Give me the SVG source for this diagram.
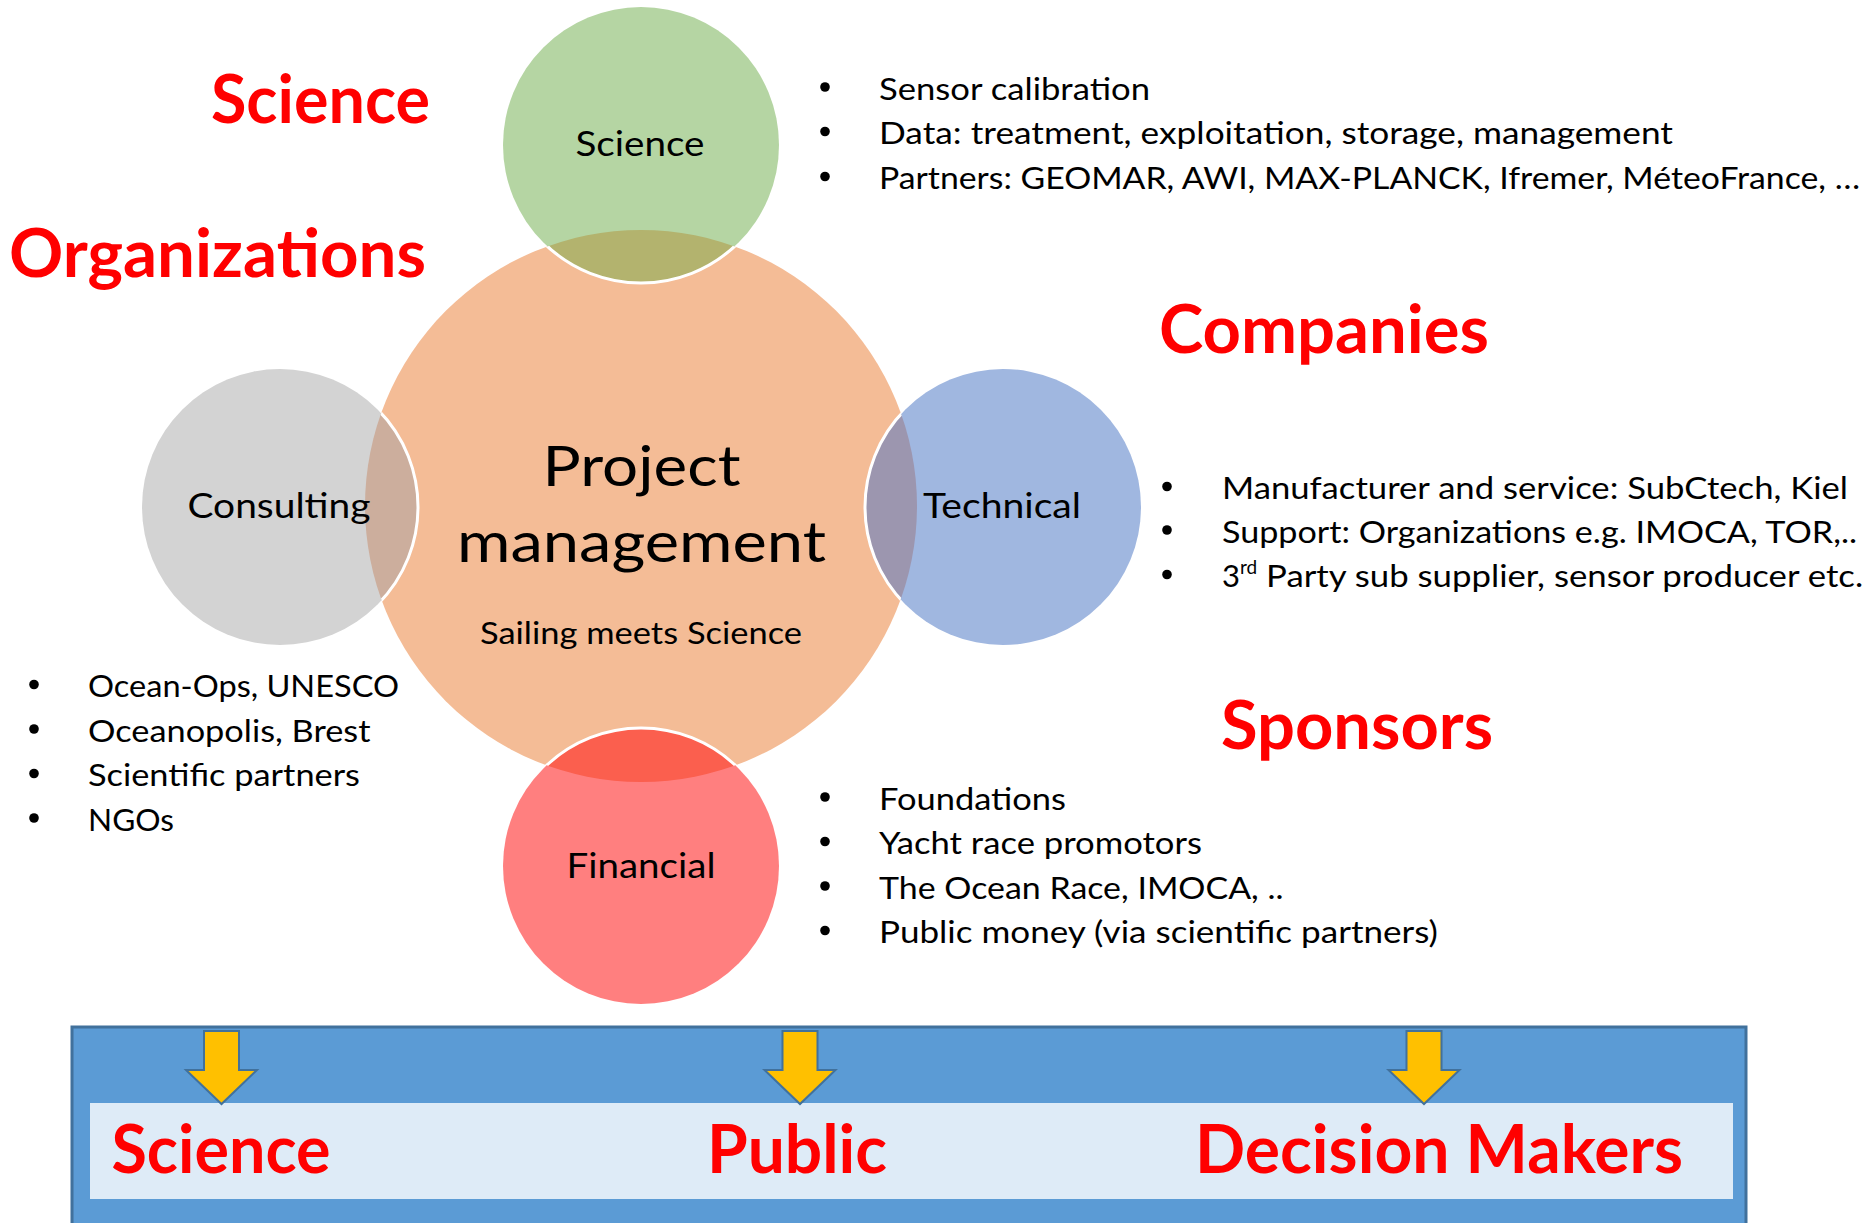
<svg xmlns="http://www.w3.org/2000/svg" xmlns:xlink="http://www.w3.org/1999/xlink" width="1875" height="1223" viewBox="0 0 1875 1223">
<style>
.t{font-family:Lato,"Liberation Sans",sans-serif;fill:#000}
.b{font-size:31px}
.lbl{font-size:35px;text-anchor:middle}
.red{font-family:Lato,"Liberation Sans",sans-serif;font-weight:bold;font-size:66px;fill:#FF0000}
.dot{fill:#000}
.ring{fill:none;stroke:#FFFFFF;stroke-width:3}
</style>
<defs>
<clipPath id="mainClip"><circle cx="641" cy="506" r="276"/></clipPath>
<path id="arrow" d="M-17.5,0 H17.5 V39 H35.5 L0,73 L-35.5,39 H-17.5 Z" fill="#FFC000" stroke="#41719C" stroke-width="2" stroke-linejoin="miter"/>
</defs>
<rect width="1875" height="1223" fill="#FFFFFF"/>

<g id="project-management">
<circle cx="641" cy="506" r="276" fill="#F4BC96"/>
</g>

<g id="science-node">
<circle cx="641" cy="145" r="138" fill="#B5D5A3"/>
<circle cx="641" cy="145" r="138" fill="#B3B36E" clip-path="url(#mainClip)"/>
<circle class="ring" cx="641" cy="145" r="138" clip-path="url(#mainClip)"/>
<text class="t lbl" x="640" y="156" textLength="129" lengthAdjust="spacingAndGlyphs">Science</text>
</g>

<g id="consulting-node">
<circle cx="280" cy="507" r="138" fill="#D3D3D3"/>
<circle cx="280" cy="507" r="138" fill="#CCAE9D" clip-path="url(#mainClip)"/>
<circle class="ring" cx="280" cy="507" r="138" clip-path="url(#mainClip)"/>
<text class="t lbl" x="279" y="518" textLength="183" lengthAdjust="spacingAndGlyphs">Consulting</text>
</g>

<g id="technical-node">
<circle cx="1003" cy="507" r="138" fill="#A0B7E0"/>
<circle cx="1003" cy="507" r="138" fill="#9C96AF" clip-path="url(#mainClip)"/>
<circle class="ring" cx="1003" cy="507" r="138" clip-path="url(#mainClip)"/>
<text class="t lbl" x="1002" y="518" textLength="158" lengthAdjust="spacingAndGlyphs">Technical</text>
</g>

<g id="financial-node">
<circle cx="641" cy="866" r="138" fill="#FF7F7F"/>
<circle cx="641" cy="866" r="138" fill="#FB5F4E" clip-path="url(#mainClip)"/>
<circle class="ring" cx="641" cy="866" r="138" clip-path="url(#mainClip)"/>
<text class="t lbl" x="641" y="878" textLength="149" lengthAdjust="spacingAndGlyphs">Financial</text>
</g>

<g id="project-management-text">
<text class="t" x="641.5" y="486" font-size="57" text-anchor="middle" textLength="198" lengthAdjust="spacingAndGlyphs">Project</text>
<text class="t" x="641.5" y="561.5" font-size="57" text-anchor="middle" textLength="369" lengthAdjust="spacingAndGlyphs">management</text>
<text class="t" x="641" y="644" font-size="31.5" text-anchor="middle" textLength="322" lengthAdjust="spacingAndGlyphs">Sailing meets Science</text>
</g>

<g id="titles">
<text class="red" x="211" y="123" textLength="219" lengthAdjust="spacingAndGlyphs">Science</text>
<text class="red" x="9" y="277" textLength="417" lengthAdjust="spacingAndGlyphs">Organizations</text>
<text class="red" x="1159" y="353" textLength="330" lengthAdjust="spacingAndGlyphs">Companies</text>
<text class="red" x="1221" y="749" textLength="272" lengthAdjust="spacingAndGlyphs">Sponsors</text>
</g>

<g id="science-list">
<circle class="dot" cx="825" cy="87" r="4.8"/>
<circle class="dot" cx="825" cy="131.5" r="4.8"/>
<circle class="dot" cx="825" cy="176.5" r="4.8"/>
<text class="t b" x="879" y="99.6" textLength="271" lengthAdjust="spacingAndGlyphs">Sensor calibration</text>
<text class="t b" x="879" y="144" textLength="794" lengthAdjust="spacingAndGlyphs">Data: treatment, exploitation, storage, management</text>
<text class="t b" x="879" y="189" textLength="981" lengthAdjust="spacingAndGlyphs">Partners: GEOMAR, AWI, MAX-PLANCK, Ifremer, MéteoFrance, …</text>
</g>

<g id="companies-list">
<circle class="dot" cx="1167" cy="486.5" r="4.8"/>
<circle class="dot" cx="1167" cy="530" r="4.8"/>
<circle class="dot" cx="1167" cy="574.5" r="4.8"/>
<text class="t b" x="1222" y="499" textLength="626" lengthAdjust="spacingAndGlyphs">Manufacturer and service: SubCtech, Kiel</text>
<text class="t b" x="1222" y="542.5" textLength="635" lengthAdjust="spacingAndGlyphs">Support: Organizations e.g. IMOCA, TOR,..</text>
<text class="t b" x="1222" y="587">3<tspan font-size="19" dy="-13">rd</tspan><tspan dy="13" textLength="606" lengthAdjust="spacingAndGlyphs"> Party sub supplier, sensor producer etc.</tspan></text>
</g>

<g id="organizations-list">
<circle class="dot" cx="34" cy="684.5" r="4.8"/>
<circle class="dot" cx="34" cy="729" r="4.8"/>
<circle class="dot" cx="34" cy="773.5" r="4.8"/>
<circle class="dot" cx="34" cy="818" r="4.8"/>
<text class="t b" x="88" y="697" textLength="311" lengthAdjust="spacingAndGlyphs">Ocean-Ops, UNESCO</text>
<text class="t b" x="88" y="741.6" textLength="282.5" lengthAdjust="spacingAndGlyphs">Oceanopolis, Brest</text>
<text class="t b" x="88" y="786" textLength="272" lengthAdjust="spacingAndGlyphs">Scientific partners</text>
<text class="t b" x="88" y="830.5" textLength="86" lengthAdjust="spacingAndGlyphs">NGOs</text>
</g>

<g id="sponsors-list">
<circle class="dot" cx="825" cy="797" r="4.8"/>
<circle class="dot" cx="825" cy="841.5" r="4.8"/>
<circle class="dot" cx="825" cy="886" r="4.8"/>
<circle class="dot" cx="825" cy="930.5" r="4.8"/>
<text class="t b" x="879" y="809.6" textLength="187" lengthAdjust="spacingAndGlyphs">Foundations</text>
<text class="t b" x="879" y="854" textLength="323" lengthAdjust="spacingAndGlyphs">Yacht race promotors</text>
<text class="t b" x="879" y="898.5" textLength="404.5" lengthAdjust="spacingAndGlyphs">The Ocean Race, IMOCA, ..</text>
<text class="t b" x="879" y="943" textLength="559" lengthAdjust="spacingAndGlyphs">Public money (via scientific partners)</text>
</g>

<g id="audience-box">
<rect x="72" y="1027" width="1674" height="210" fill="#5B9BD5" stroke="#41719C" stroke-width="3"/>
<rect x="90" y="1103" width="1643" height="96" fill="#DEEBF7"/>
<text class="red" x="111.5" y="1173" textLength="219" lengthAdjust="spacingAndGlyphs">Science</text>
<text class="red" x="707" y="1173" textLength="180" lengthAdjust="spacingAndGlyphs">Public</text>
<text class="red" x="1195" y="1173" textLength="488" lengthAdjust="spacingAndGlyphs">Decision Makers</text>
</g>

<g id="connectors">
<use xlink:href="#arrow" x="221.5" y="1031"/>
<use xlink:href="#arrow" x="800" y="1031"/>
<use xlink:href="#arrow" x="1424" y="1031"/>
</g>
</svg>
